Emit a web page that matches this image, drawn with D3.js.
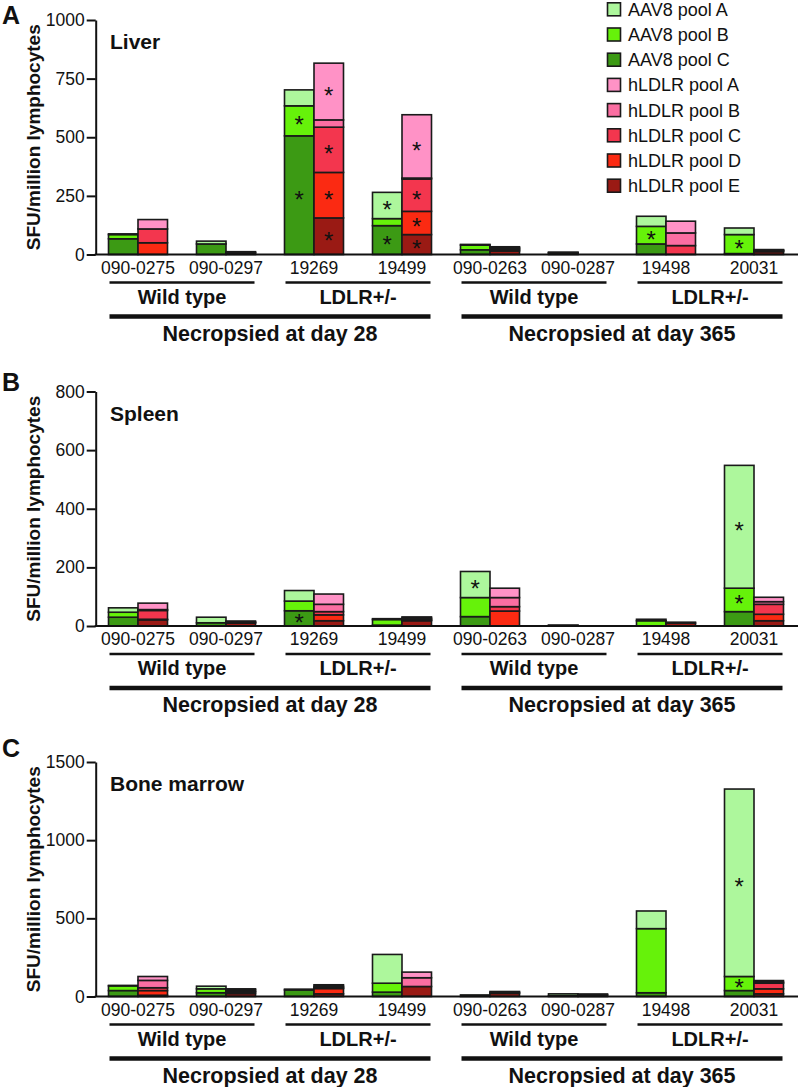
<!DOCTYPE html>
<html><head><meta charset="utf-8">
<script src="https://cdn.jsdelivr.net/npm/d3@7"></script>
<style>body{margin:0;background:#fff} svg text{font-family:"Liberation Sans",Arial,Helvetica,sans-serif;fill:#111}</style>
</head><body><svg id="c" width="800" height="1087"></svg>
<script>
// ---------- DATA ----------
const subjects = ["090-0275","090-0297","19269","19499","090-0263","090-0287","19498","20031"];
const subgroups = [
  {label:"Wild type", from:"090-0275", to:"090-0297"},
  {label:"LDLR+/-",   from:"19269",    to:"19499"},
  {label:"Wild type", from:"090-0263", to:"090-0287"},
  {label:"LDLR+/-",   from:"19498",    to:"20031"}
];
const timeGroups = [
  {label:"Necropsied at day 28",  from:"090-0275", to:"19499"},
  {label:"Necropsied at day 365", from:"090-0263", to:"20031"}
];
const aavKeys = ["AAV8 pool A","AAV8 pool B","AAV8 pool C"];
const ldlrKeys = ["hLDLR pool A","hLDLR pool B","hLDLR pool C","hLDLR pool D","hLDLR pool E"];
const legendKeys = aavKeys.concat(ldlrKeys);
const colors = ["#adf79c","#66f20a","#3c9a14","#ff92c6","#fb6ea2","#f3364e","#fb2a12","#9a1a14"];

// Liver
const liverAAV8A = [3, 12, 68, 112, 3, 2, 43, 28];
const liverAAV8B = [18, 0, 128, 30, 20, 2, 75, 81];
const liverAAV8C = [67, 45, 506, 123, 20, 6, 45, 4];
const liverLDLRA = [40, 3, 242, 270, 4, 0, 50, 2];
const liverLDLRB = [0, 0, 31, 4, 4, 0, 54, 2];
const liverLDLRC = [59, 3, 193, 138, 5, 0, 38, 2];
const liverLDLRD = [50, 0, 194, 99, 5, 0, 0, 3];
const liverLDLRE = [0, 6, 156, 85, 15, 0, 0, 12];
const liverStars = [["19269","AAV8 pool B"],["19269","AAV8 pool C"],["19269","hLDLR pool A"],["19269","hLDLR pool C"],["19269","hLDLR pool D"],["19269","hLDLR pool E"],["19499","AAV8 pool A"],["19499","AAV8 pool C"],["19499","hLDLR pool A"],["19499","hLDLR pool C"],["19499","hLDLR pool D"],["19499","hLDLR pool E"],["19498","AAV8 pool B"],["20031","AAV8 pool B"]];

// Spleen
const spleenAAV8A = [15, 19, 36, 3, 89, 1, 5, 419];
const spleenAAV8B = [17, 0, 33, 19, 65, 0, 18, 80];
const spleenAAV8C = [30, 11, 52, 3, 32, 2, 0, 49];
const spleenLDLRA = [22, 3, 35, 4, 32, 0, 3, 15];
const spleenLDLRB = [3, 2, 25, 4, 31, 0, 0, 9];
const spleenLDLRC = [30, 2, 11, 3, 15, 0, 0, 34];
const spleenLDLRD = [2, 0, 20, 2, 51, 0, 0, 22];
const spleenLDLRE = [21, 10, 18, 18, 0, 0, 10, 18];
const spleenStars = [["19269","AAV8 pool C"],["090-0263","AAV8 pool A"],["20031","AAV8 pool A"],["20031","AAV8 pool B"]];

// Bone marrow
const bmAAV8A = [3, 17, 0, 184, 0, 12, 113, 1199];
const bmAAV8B = [30, 25, 5, 57, 0, 0, 410, 90];
const bmAAV8C = [38, 24, 42, 28, 10, 5, 24, 38];
const bmLDLRA = [25, 5, 10, 36, 6, 4, 0, 10];
const bmLDLRB = [47, 10, 9, 56, 6, 4, 0, 7];
const bmLDLRC = [18, 5, 5, 0, 0, 0, 0, 36];
const bmLDLRD = [30, 10, 34, 0, 0, 0, 0, 32];
const bmLDLRE = [8, 19, 17, 64, 20, 8, 0, 17];
const bmStars = [["20031","AAV8 pool A"],["20031","AAV8 pool B"]];

const liverTicks = [0, 250, 500, 750, 1000];
const spleenTicks = [0, 200, 400, 600, 800];
const bmTicks = [0, 500, 1000, 1500];

// ---------- LAYOUT ----------
const panels = [
  {letter:"A", letterY:24, title:"Liver", top:20, ticks:liverTicks,
   aav:[liverAAV8A,liverAAV8B,liverAAV8C], ldlr:[liverLDLRA,liverLDLRB,liverLDLRC,liverLDLRD,liverLDLRE], stars:liverStars},
  {letter:"B", letterY:391, title:"Spleen", top:391.5, ticks:spleenTicks,
   aav:[spleenAAV8A,spleenAAV8B,spleenAAV8C], ldlr:[spleenLDLRA,spleenLDLRB,spleenLDLRC,spleenLDLRD,spleenLDLRE], stars:spleenStars},
  {letter:"C", letterY:757, title:"Bone marrow", top:762, ticks:bmTicks,
   aav:[bmAAV8A,bmAAV8B,bmAAV8C], ldlr:[bmLDLRA,bmLDLRB,bmLDLRC,bmLDLRD,bmLDLRE], stars:bmStars}
];
const plotH = 234.5;
const axisX = 95.7;
const color = d3.scaleOrdinal().domain(legendKeys).range(colors);
const x = d3.scaleBand().domain(subjects).range([94, 798]).padding(0);
const inner = d3.scaleBand().domain(["AAV8","hLDLR"]).range([14.5, 73.5]).padding(0);

const svg = d3.select("#c");

panels.forEach(p => {
  const zero = p.top + plotH;
  const max = p.ticks[p.ticks.length-1];
  const y = d3.scaleLinear().domain([0, max]).range([zero, p.top]);
  const g = svg.append("g");

  const rows = subjects.map((s, i) => {
    const r = {subject: s};
    aavKeys.forEach((k, j) => r[k] = p.aav[j][i]);
    ldlrKeys.forEach((k, j) => r[k] = p.ldlr[j][i]);
    return r;
  });
  const stackA = d3.stack().keys(aavKeys.slice().reverse())(rows);
  const stackL = d3.stack().keys(ldlrKeys.slice().reverse())(rows);
  const segs = [];
  stackA.forEach(layer => layer.forEach(d => segs.push({key:layer.key, grp:"AAV8", s:d.data.subject, y0:d[0], y1:d[1]})));
  stackL.forEach(layer => layer.forEach(d => segs.push({key:layer.key, grp:"hLDLR", s:d.data.subject, y0:d[0], y1:d[1]})));

  g.selectAll("rect.seg").data(segs.filter(d => d.y1 - d.y0 > 0)).join("rect")
    .attr("class","seg")
    .attr("x", d => x(d.s) + inner(d.grp))
    .attr("width", inner.bandwidth())
    .attr("y", d => y(d.y1))
    .attr("height", d => y(d.y0) - y(d.y1))
    .attr("fill", d => color(d.key))
    .attr("stroke", "#1a1a1a").attr("stroke-width", 1.6);

  // stars
  p.stars.forEach(([s, k]) => {
    const seg = segs.find(d => d.s === s && d.key === k);
    g.append("text")
      .attr("x", x(s) + inner(seg.grp) + inner.bandwidth()/2)
      .attr("y", y((seg.y0 + seg.y1)/2) + 12.5)
      .attr("text-anchor","middle")
      .style("font-size","24px")
      .text("*");
  });

  // y axis
  const ax = d3.axisLeft(y).tickValues(p.ticks).tickFormat(d3.format("d"))
    .tickSize(9).tickPadding(2).tickSizeOuter(0);
  const ag = g.append("g").attr("transform", `translate(${axisX},0)`).call(ax);
  ag.select(".domain").attr("stroke","#111").attr("stroke-width",2);
  ag.selectAll(".tick line").attr("stroke","#111").attr("stroke-width",2);
  ag.selectAll(".tick text").style("font-size","17.5px").attr("fill","#111");

  // x baseline
  g.append("line").attr("x1", axisX-1).attr("x2", 798).attr("y1", zero).attr("y2", zero)
    .attr("stroke","#111").attr("stroke-width",2);

  // subject labels
  g.selectAll("text.sub").data(subjects).join("text").attr("class","sub")
    .attr("x", d => x(d) + x.bandwidth()/2).attr("y", zero + 19)
    .attr("text-anchor","middle").style("font-size","17.5px").text(d => d);

  // subgroup lines and labels
  subgroups.forEach(sg => {
    const x1 = x(sg.from) + inner("AAV8") + 1, x2 = x(sg.to) + inner("hLDLR") + inner.bandwidth() - 1;
    g.append("line").attr("x1", x1).attr("x2", x2).attr("y1", zero+28).attr("y2", zero+28)
      .attr("stroke","#111").attr("stroke-width",2.5);
    g.append("text").attr("x",(x1+x2)/2).attr("y", zero+49).attr("text-anchor","middle")
      .style("font-size","20px").style("font-weight","bold").text(sg.label);
  });
  timeGroups.forEach(tg => {
    const x1 = x(tg.from) + inner("AAV8") + 1, x2 = x(tg.to) + inner("hLDLR") + inner.bandwidth() - 1;
    g.append("line").attr("x1", x1).attr("x2", x2).attr("y1", zero+62).attr("y2", zero+62)
      .attr("stroke","#111").attr("stroke-width",4.5);
    g.append("text").attr("x",(x1+x2)/2).attr("y", zero+86).attr("text-anchor","middle")
      .style("font-size","21.5px").style("font-weight","bold").text(tg.label);
  });

  // panel letter, title, y label
  g.append("text").attr("x", 2).attr("y", p.letterY).style("font-size","25px").style("font-weight","bold").text(p.letter);
  g.append("text").attr("x", 110).attr("y", p.top + 29).style("font-size","21px").style("font-weight","bold").text(p.title);
  g.append("text").attr("transform", `translate(40,${(p.top+zero)/2}) rotate(-90)`)
    .attr("text-anchor","middle").style("font-size","19px").style("font-weight","bold")
    .text("SFU/million lymphocytes");
});

// legend
const lg = svg.append("g");
legendKeys.forEach((k, i) => {
  const cy = 9.3 + 25.2 * i;
  lg.append("rect").attr("x", 607.5).attr("y", cy - 6.5).attr("width", 13).attr("height", 13)
    .attr("fill", color(k)).attr("stroke", "#1a1a1a").attr("stroke-width", 1.6);
  lg.append("text").attr("x", 628).attr("y", cy + 6.5).style("font-size","18px").text(k);
});
</script></body></html>
